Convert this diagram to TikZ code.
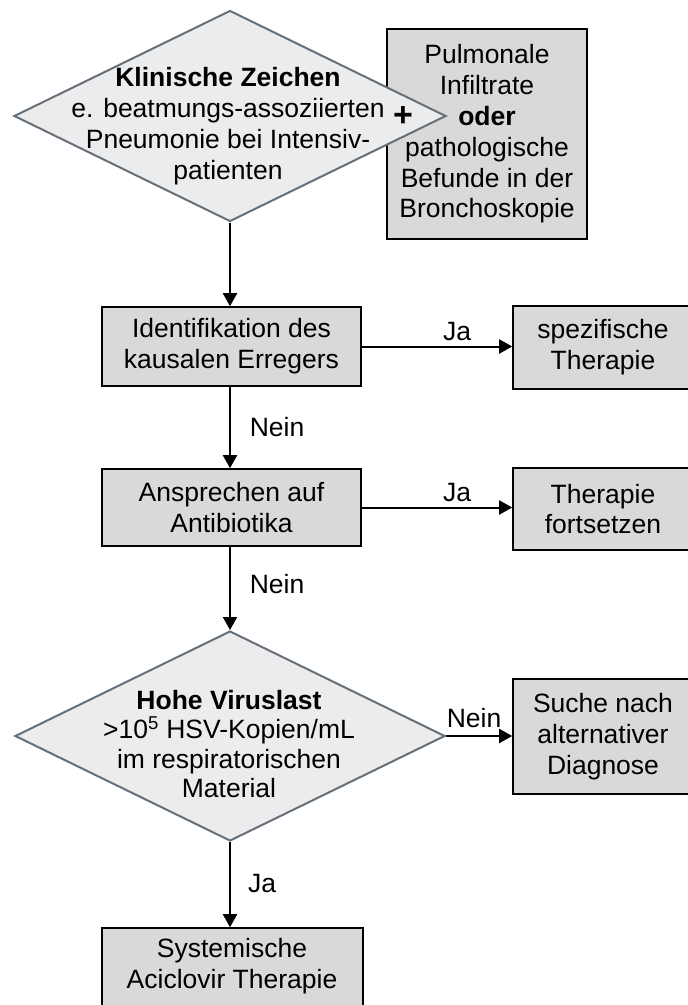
\documentclass[tikz,border=0pt]{standalone}
\usepackage{fontspec}
\setmainfont{Liberation Sans}
\usetikzlibrary{shapes.geometric,arrows.meta}
\definecolor{boxfill}{RGB}{217,217,217}
\definecolor{diafill}{RGB}{236,236,236}
\definecolor{diaedge}{RGB}{100,112,124}
\begin{document}
\begin{tikzpicture}[x=1pt,y=-1pt,
  every node/.style={font=\fontsize{26.5}{30.8}\selectfont},
  box/.style={draw=black,line width=1.6pt,fill=boxfill,rectangle,inner sep=0pt,align=center},
  dia/.style={draw=diaedge,line width=2pt,fill=diafill,diamond,inner sep=0pt},
  txt/.style={inner sep=0pt,align=center},
  arr/.style={line width=2pt,-{Triangle[length=13pt,width=14pt]}},
  lab/.style={inner sep=0pt}]
\useasboundingbox (0,0) rectangle (688,1005);
\fill[white] (0,0) rectangle (688,1005);
\clip (0,0) rectangle (688,1005);
% top right box (under the diamond)
\node[box,minimum width=200pt,minimum height=210pt] (inf) at (487,134)
  {Pulmonale\\Infiltrate\\\textbf{oder}\\pathologische\\Befunde in der\\Bronchoskopie};
% top diamond
\node[dia,minimum width=432pt,minimum height=211pt] (d1) at (230,116) {};
\node[txt] (d1t) at (228,126)
  {\textbf{Klinische Zeichen}\\e. beatmungs-assoziierten\\Pneumonie bei Intensiv-\\patienten};
\node[lab,font=\fontsize{34}{34}\selectfont\bfseries] (plus) at (403,117) {+};
% boxes
\node[box,minimum width=259pt,minimum height=79pt] (b1) at (231.5,346.5)
  {Identifikation des\\kausalen Erregers};
\node[box,minimum width=180pt,minimum height=83pt] (spez) at (603,347.5)
  {spezifische\\Therapie};
\node[box,minimum width=259pt,minimum height=77pt] (b2) at (231.5,507.5)
  {Ansprechen auf\\Antibiotika};
\node[box,minimum width=180pt,minimum height=82pt] (fort) at (603,509)
  {Therapie\\fortsetzen};
\node[dia,minimum width=430pt,minimum height=210pt] (d2) at (230,736) {};
\node[txt,font=\fontsize{26.5}{29.5}\selectfont] (d2t) at (229,744)
  {\textbf{Hohe Viruslast}\\>10\textsuperscript{5} HSV-Kopien/mL\\im respiratorischen\\Material};
\node[box,minimum width=180pt,minimum height=115pt] (suche) at (603,736.5)
  {Suche nach\\alternativer\\Diagnose};
\node[box,minimum width=261pt,minimum height=102pt] (sys) at (232.5,979) {};
\node[txt] (syst) at (232,966) {Systemische\\Aciclovir Therapie};
% connectors
\draw[arr] (d1.south) -- (d1.south |- b1.north);
\draw[arr] (b1.east) -- (b1.east -| spez.west);
\draw[arr] (d1.south |- b1.south) -- (d1.south |- b2.north);
\draw[arr] (b2.east) -- (b2.east -| fort.west);
\draw[arr] (d1.south |- b2.south) -- (d2.north);
\draw[arr] (d2.east) -- (d2.east -| suche.west);
\draw[arr] (d2.south) -- (d2.south |- sys.north);
% labels
\node[lab] (ja1) at (457,332) {Ja};
\node[lab] (nein1) at (277,427) {Nein};
\node[lab] (ja2) at (457,493) {Ja};
\node[lab] (nein2) at (277,584) {Nein};
\node[lab] (nein3) at (474,718) {Nein};
\node[lab] (ja3) at (262,884) {Ja};
\end{tikzpicture}
\end{document}
